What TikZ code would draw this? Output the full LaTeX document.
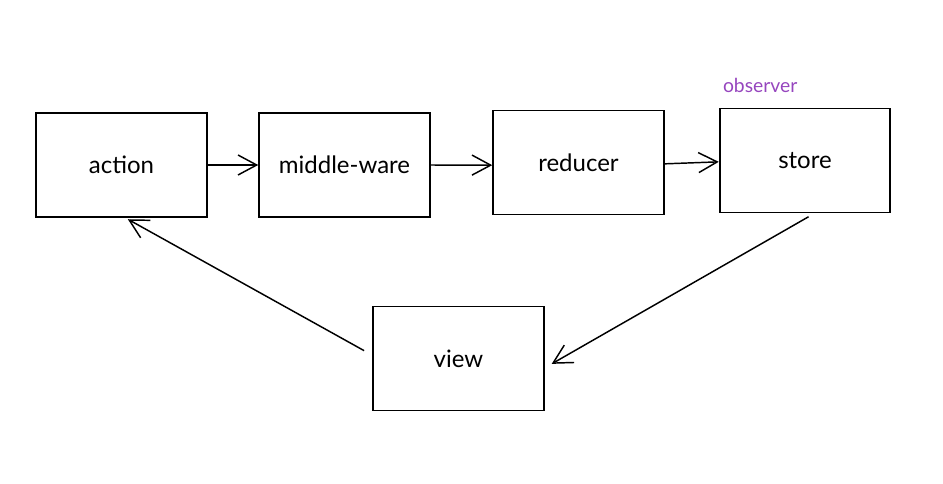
\documentclass[tikz,border=0pt]{standalone}
\usepackage{fontspec}
\setmainfont{Lato}
\usetikzlibrary{arrows.meta, positioning}

\definecolor{obsviolet}{RGB}{150,70,190}

\tikzset{
  stage/.style={draw, line width=1.4pt, minimum width=128pt, minimum height=78pt,
                font=\fontsize{18}{21}\selectfont},
  flow/.style={line width=1.1pt, -{Straight Barb[length=14pt, width=15pt, line width=1.1pt]}},
  obslabel/.style={text=obsviolet, font=\fontsize{14.5}{16}\selectfont, inner sep=0pt}
}

\begin{document}
\begin{tikzpicture}[x=0.75pt, y=-0.75pt]
                \useasboundingbox (0,0) rectangle (943,483);

                % Блоки
                \node[stage] (action) at (121.5,165) {action};
                \node[stage] (middleware) at (344.5,165) {middle-ware};
                \node[stage] (reducer) at (578.5,162.5) {reducer};
                \node[stage] (store) at (805,160.5) {store};
                \node[stage] (view) at (458.5,358.5) {view};

                % Подпись
                \node[obslabel, above right=11pt and 3pt of store.north west, anchor=south west] (obs) {observer};

                % Поток данных
                \draw[flow] (action.east) -- (middleware.west);
                \draw[flow] (middleware.east) -- ([yshift=-2pt]reducer.west);
                \draw[flow] ([yshift=-1pt]reducer.east) -- ([yshift=-1pt]store.west);

                % Обратная связь
                \draw[flow, shorten <=5pt, shorten >=6pt] ([xshift=7pt]store.south) -- ([yshift=-7pt]view.east);
                \draw[flow, shorten <=7pt, shorten >=2pt] ([yshift=2.5pt]view.west) -- ([xshift=3pt]action.south);
\end{tikzpicture}
\end{document}
